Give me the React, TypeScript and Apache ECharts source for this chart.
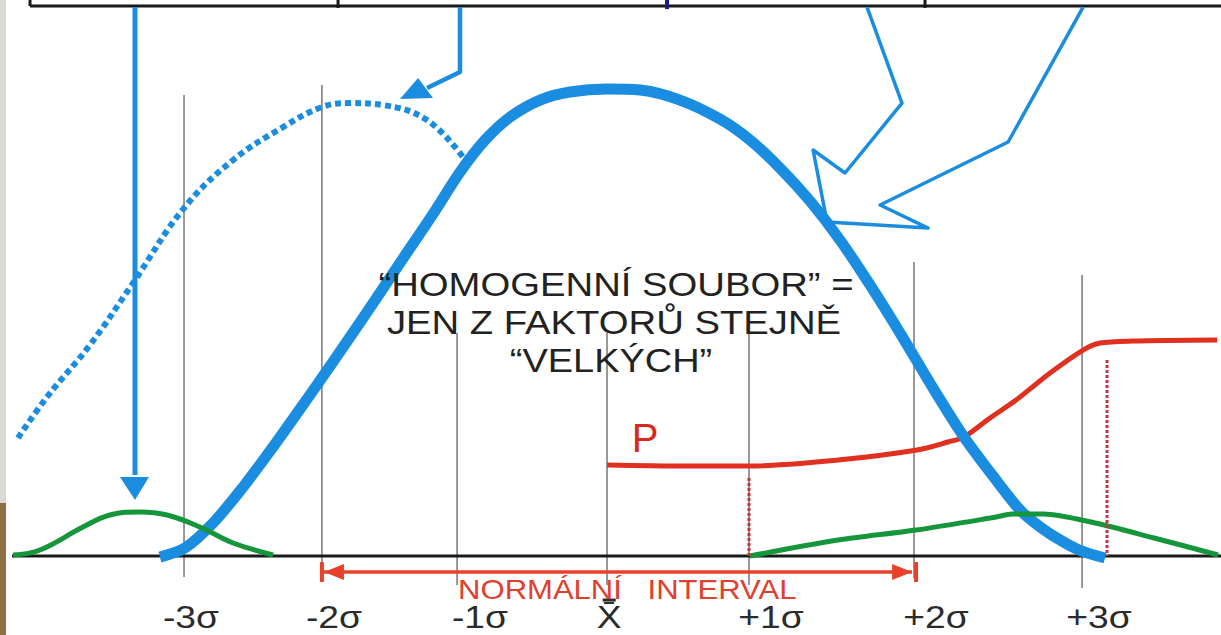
import React, { useEffect, useRef } from "react";
import * as echarts from "echarts";

// Axis frame (x in sigma-like units around the mean, y in density units)
const X_MIN = -4.186;
const X_MAX = 4.234;
const Y_MIN = -0.0678;
const Y_MAX = 0.4773;

// Thick blue curve (homogeneous population)
const mainCurve: number[][] = [
  [-3.083, -0.0009], [-2.91, 0.0069], [-2.717, 0.0283], [-2.51, 0.0592], [-2.324, 0.0901],
  [-2.117, 0.1262], [-1.91, 0.1631], [-1.655, 0.2094], [-1.428, 0.2515], [-1.2, 0.2936],
  [-1.014, 0.3296], [-0.841, 0.3571], [-0.669, 0.3768], [-0.462, 0.3914], [-0.255, 0.3983],
  [0, 0.4009], [0.228, 0.4], [0.503, 0.3914], [0.779, 0.3751], [0.986, 0.3571],
  [1.193, 0.333], [1.4, 0.3047], [1.607, 0.2712], [1.814, 0.2326], [2.021, 0.1914],
  [2.269, 0.1399], [2.462, 0.1021], [2.683, 0.0652], [2.848, 0.0395], [2.952, 0.0283],
  [3.09, 0.0163], [3.255, 0.0052], [3.434, -0.0017],
];

// Dotted blue curve (shifted population)
const shiftedCurve: number[][] = [
  [-4.062, 0.1013], [-3.862, 0.1365], [-3.566, 0.1811], [-3.269, 0.2343], [-2.917, 0.2987],
  [-2.579, 0.3399], [-2.234, 0.3682], [-1.966, 0.3854], [-1.772, 0.3888], [-1.545, 0.3871],
  [-1.241, 0.3742], [-0.993, 0.3425],
];

// Red probability curve P
const probabilityCurve: number[][] = [
  [0, 0.0781], [0.503, 0.0773], [0.986, 0.0773], [1.593, 0.0824], [2.138, 0.091],
  [2.352, 0.0979], [2.462, 0.1021], [2.641, 0.1185], [2.821, 0.1339], [3.055, 0.1571],
  [3.283, 0.1768], [3.4, 0.1828], [3.628, 0.1845], [4.207, 0.1854],
];

// Green curves
const leftGreen: number[][] = [
  [-4.097, 0.0009], [-3.91, 0.0052], [-3.614, 0.0249], [-3.428, 0.0352], [-3.221, 0.0378],
  [-3.034, 0.0352], [-2.807, 0.0249], [-2.579, 0.0112], [-2.303, 0.0009],
];
const rightGreen: number[][] = [
  [0.986, 0], [1.593, 0.0137], [2.131, 0.0223], [2.683, 0.0335], [2.793, 0.0361],
  [3.007, 0.0361], [3.366, 0.0283], [3.772, 0.0155], [4.214, 0.0009],
];

const baseline: number[][] = [[-4.103, 0], [4.234, 0]];

// Sigma grid lines and labels
const sigmaLabels = ["-3σ", "-2σ", "-1σ", "X̄", "+1σ", "+2σ", "+3σ"];
const sigmaLineX = [-2.917, -1.966, -1.034, 0, 0.979, 2.117, 3.276];
const sigmaLineTop = [0.3957, 0.4043, 0.1914, 0.1914, 0.1914, 0.2524, 0.2412];
const sigmaLineBottom = [-0.018, -0.0052, -0.0249, -0.0249, -0.0249, -0.0189, -0.0275];
const sigmaLabelX = [-2.869, -1.883, -0.876, 0.014, 1.131, 2.269, 3.393];
const sigmaLabelY = -0.0524;
// bar over the mean symbol [x1, y1, x2, y2]
const meanBar: number[][] = [[-0.03, -0.0378, 0.06, -0.0378]];

// Red dotted verticals [x, top, bottom]
const redDotted: number[][] = [[0.979, 0.067, 0], [3.448, 0.1682, 0]];

// Top boxes edge [x1, y1, x2, y2]
const topEdges: number[][] = [
  [-3.979, 0.4721, 4.234, 0.4721],
  [-3.979, 0.4773, -3.979, 0.4721],
  [-1.855, 0.4773, -1.855, 0.4704],
  [2.193, 0.4773, 2.193, 0.4704],
];
const topMarker: number[][] = [[0.414, 0.4773, 0.414, 0.4695]];

// Arrows
const arrow1: number[][] = [[-3.255, 0.4712], [-3.255, 0.0695]];
const arrow2: number[][] = [[-1.014, 0.4712], [-1.014, 0.4155], [-1.241, 0.4017]];
const outlineArrow: number[][] = [
  [1.793, 0.4712], [2.034, 0.3888], [1.641, 0.3288], [1.421, 0.3485], [1.517, 0.2867],
  [2.214, 0.2815], [1.883, 0.3013], [2.766, 0.3554], [3.283, 0.4712],
];
const blueHeads: number[][][] = [
  [[-3.359, 0.0678], [-3.159, 0.0678], [-3.255, 0.0481]],
  [[-1.303, 0.4103], [-1.2, 0.3931], [-1.428, 0.3923]],
];

// Normal interval arrow
const intervalLine: number[][] = [[-1.952, -0.0137], [2.103, -0.0137]];
const redHeads: number[][][] = [
  [[-1.952, -0.0137], [-1.814, -0.0068], [-1.814, -0.0206]],
  [[2.103, -0.0137], [1.966, -0.0068], [1.966, -0.0206]],
];
const intervalBars: number[][] = [[-1.966, -0.0052, -1.966, -0.0223], [2.131, -0.0052, 2.131, -0.0223]];

const BLUE = "#1b8de0";
const RED = "#e0301f";
const GREEN = "#16963a";
const FONT = '"Liberation Sans", Arial, sans-serif';

function lineSeries(data: number[][], color: string, width: number, z: number, smooth: number | boolean, dash?: any) {
  return {
    type: "line",
    data,
    symbol: "none",
    showSymbol: false,
    smooth,
    silent: true,
    clip: false,
    z,
    lineStyle: { color, width, type: dash || "solid", cap: "butt", join: "round" },
  };
}

function segSeries(segs: number[][], color: string, width: number, z: number, dash?: number[]) {
  return {
    type: "custom",
    coordinateSystem: "cartesian2d",
    data: segs,
    encode: { x: [0, 2], y: [1, 3] },
    silent: true,
    clip: false,
    z,
    renderItem: (_p: any, api: any) => {
      const a = api.coord([api.value(0), api.value(1)]);
      const b = api.coord([api.value(2), api.value(3)]);
      return {
        type: "line",
        shape: { x1: a[0], y1: a[1], x2: b[0], y2: b[1] },
        style: { stroke: color, lineWidth: width, lineDash: dash || null, fill: null },
      };
    },
  };
}

function polySeries(polys: number[][][], color: string, z: number) {
  return {
    type: "custom",
    coordinateSystem: "cartesian2d",
    data: polys.map((p, i) => [p[0][0], p[0][1], i]),
    encode: { x: 0, y: 1 },
    silent: true,
    clip: false,
    z,
    renderItem: (_p: any, api: any) => {
      const poly = polys[api.value(2)];
      return {
        type: "polygon",
        shape: { points: poly.map((pt) => api.coord(pt)) },
        style: { fill: color },
      };
    },
  };
}

function textEl(text: string, x: number, y: number, size: number, fill: string, scaleX = 1) {
  return {
    type: "text", x, y, scaleX, z: 100,
    style: {
      text, x: 0, y: 0, fill, font: `${size}px ${FONT}`,
      align: "center", verticalAlign: "middle", textAlign: "center", textVerticalAlign: "middle",
    },
  };
}

export default function App() {
  const ref = useRef<HTMLDivElement>(null);
  useEffect(() => {
    const chart = echarts.init(ref.current!, null, { renderer: "svg" });
    const verticals = sigmaLineX.map((x, i) => [x, sigmaLineTop[i], x, sigmaLineBottom[i]]);
    const redVert = redDotted.map((d) => [d[0], d[1], d[0], d[2]]);
    const option: any = {
      animation: false,
      backgroundColor: "#ffffff",
      grid: { left: 0, right: 0, top: 0, bottom: 0, containLabel: false },
      xAxis: { type: "value", min: X_MIN, max: X_MAX, show: false },
      yAxis: { type: "value", min: Y_MIN, max: Y_MAX, show: false },
      graphic: [
        { type: "rect", shape: { x: 0, y: 0, width: 6, height: 503 }, style: { fill: "#dcd9d2" }, z: 100 },
        { type: "rect", shape: { x: 0, y: 503, width: 6, height: 132 }, style: { fill: "#8e6f45" }, z: 100 },
        textEl("“HOMOGENNÍ SOUBOR” =", 616, 285, 33, "#222", 1.16),
        textEl("JEN Z FAKTORŮ STEJNĚ", 614, 323, 33, "#222", 1.16),
        textEl("“VELKÝCH”", 611, 361, 33, "#222", 1.15),
        textEl("P", 645, 438, 40, "#d8281c"),
        textEl("NORMÁLNÍ", 540, 590, 27, "#e0402c", 1.15),
        textEl("INTERVAL", 722, 590, 27, "#e0402c", 1.15),
      ],
      series: [
        segSeries(verticals, "#555555", 1.2, 1),
        segSeries(topEdges, "#1a1a1a", 3, 2),
        segSeries(topMarker, "#1c1c7a", 4, 2),
        lineSeries(baseline, "#1a1a1a", 3, 2, false),
        lineSeries(probabilityCurve, RED, 5, 3, 0.3),
        lineSeries(shiftedCurve, BLUE, 6, 4, 0.4, [6, 4]),
        lineSeries(mainCurve, BLUE, 11, 5, 0.3),
        lineSeries(arrow1, BLUE, 5, 5, false),
        lineSeries(arrow2, BLUE, 4.5, 5, false),
        lineSeries(outlineArrow, BLUE, 3.5, 5, false),
        polySeries(blueHeads, BLUE, 5),
        lineSeries(leftGreen, GREEN, 5, 6, 0.4),
        lineSeries(rightGreen, GREEN, 5, 6, 0.3),
        segSeries(redVert, "#c2343a", 3, 7, [3, 2]),
        lineSeries(intervalLine, "#e8402a", 3.5, 7, false),
        polySeries(redHeads, "#e8402a", 7),
        segSeries(intervalBars, "#e8402a", 4, 7),
        segSeries(meanBar, "#2b2b2b", 3, 8),
        {
          type: "custom",
          coordinateSystem: "cartesian2d",
          data: sigmaLabelX.map((x, i) => [x, sigmaLabelY, i]),
          encode: { x: 0, y: 1 },
          silent: true,
          clip: false,
          z: 8,
          renderItem: (_p: any, api: any) => {
            const p = api.coord([api.value(0), api.value(1)]);
            return {
              type: "text",
              x: p[0],
              y: p[1],
              scaleX: 1.2,
              style: {
                text: sigmaLabels[api.value(2)],
                x: 0,
                y: 0,
                fill: "#2b2b2b",
                font: `31px ${FONT}`,
                align: "center",
                verticalAlign: "middle",
                textAlign: "center",
                textVerticalAlign: "middle",
              },
            };
          },
        },
      ],
    };
    chart.setOption(option);
    return () => chart.dispose();
  }, []);
  return <div ref={ref} style={{ position: "absolute", left: 0, top: 0, width: 1221, height: 635 }} />;
}
